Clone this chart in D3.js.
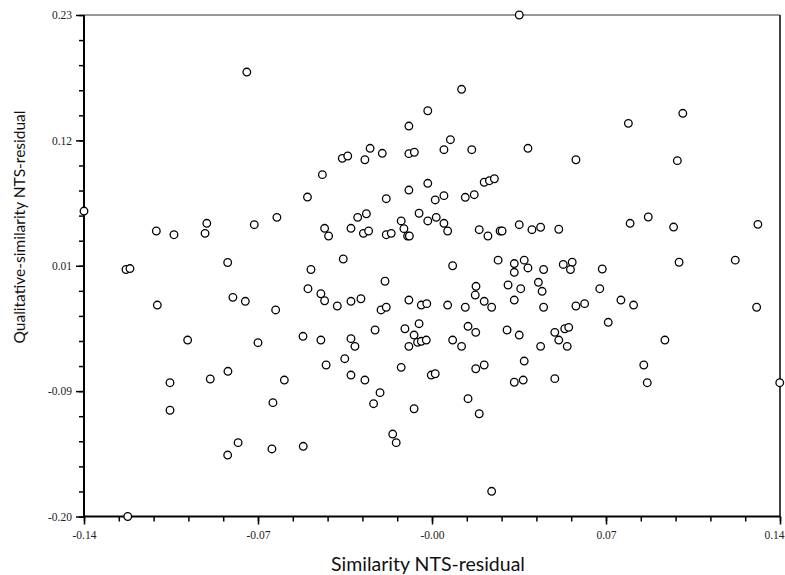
<!DOCTYPE html>
<html>
<head>
<meta charset="utf-8">
<script src="https://cdn.jsdelivr.net/npm/d3@7"></script>
<style>
  html, body { margin: 0; padding: 0; background: #fff; }
  svg { display: block; }
</style>
</head>
<body>
<svg id="chart" width="785" height="575"></svg>
<script>
// ---- data ----
const xTickValues = [-0.14, -0.07, 0, 0.07, 0.14];
const xTickLabels = ["-0.14", "-0.07", "-0.00", "0.07", "0.14"];
const yTickValues = [-0.2, -0.0925, 0.015, 0.1225, 0.23];
const yTickLabels = ["-0.20", "-0.09", "0.01", "0.12", "0.23"];

const simResidual = [
  -0.0745, -0.1400, -0.1109, -0.1038, -0.0913, -0.0906, -0.0822, -0.0715, -0.0624, -0.0501,
  -0.1231, -0.1215, -0.0487, -0.1105, -0.0801, -0.0751, -0.0629, -0.0499, -0.0983, -0.0700,
  -0.0519, -0.1054, -0.0892, -0.0821, -0.0594, -0.1054, -0.0640, -0.0780, -0.0822, -0.0644,
  -0.0518, -0.1224,
  0.0351, 0.0119, -0.0017, -0.0093, 0.0074, 0.0048, 0.0160, 0.0386, -0.0361, -0.0339,
  -0.0270, -0.0249, -0.0200, -0.0093, -0.0071, -0.0441, -0.0184, -0.0093, -0.0017, 0.0013,
  0.0048, 0.0134, 0.0170, 0.0210, 0.0231, 0.0251, -0.0299, -0.0264, -0.0124, -0.0052,
  -0.0017, 0.0017, 0.0048, 0.0063, -0.0432, -0.0416, -0.0326, -0.0276, -0.0255, -0.0184,
  -0.0164, -0.0113, -0.0098, -0.0091, 0.0190, 0.0225, 0.0274, 0.0282, 0.0351, 0.0402,
  0.0437, -0.0357, 0.0083, 0.0266, 0.0331, 0.0371, 0.0386, 0.0449, 0.0331,
  0.1009, 0.0790, 0.0579, 0.0987, 0.0797, 0.0870, 0.0972, 0.1311, 0.0510, 0.0994,
  0.1220, 0.0528, 0.0564, 0.0557, 0.0685,
  -0.0189, -0.0447, -0.0432, -0.0381, -0.0326, -0.0286, -0.0205, -0.0184, -0.0093, -0.0043,
  -0.0021, 0.0063, 0.0134, 0.0177, 0.0174, 0.0210, 0.0240, 0.0306, 0.0357, 0.0331,
  0.0428, 0.0443, 0.0449, -0.0447, -0.0326, -0.0310, -0.0229, -0.0109, -0.0072, -0.0052,
  -0.0093, -0.0058, -0.0043, -0.0023, 0.0083, 0.0119, 0.0145, 0.0176, 0.0302, 0.0351,
  0.0437, -0.0351, -0.0426, -0.0326, -0.0270, -0.0124, -0.0003, 0.0013, 0.0176, 0.0210,
  0.0371, 0.0331, 0.0367, -0.0209, -0.0235, -0.0072, 0.0145, 0.0190, -0.0158, -0.0144,
  0.0240,
  0.0675, 0.0579, 0.0614, 0.0760, 0.0811, 0.0709, 0.0494, 0.0534, 0.0550, 0.0510,
  0.0544, 0.0937, 0.0852, 0.0866, 0.0494, 0.1306, 0.1399
];

const qualSimResidual = [
  0.1811, 0.0619, 0.0448, 0.0416, 0.0428, 0.0514, 0.0178, 0.0502, 0.0565, 0.0739,
  0.0118, 0.0126, 0.0118, -0.0187, -0.0121, -0.0155, -0.0229, -0.0047, -0.0487, -0.0510,
  -0.0455, -0.0853, -0.0821, -0.0755, -0.0830, -0.1089, -0.1024, -0.1367, -0.1473, -0.1421,
  -0.1398, -0.2000,
  0.2300, 0.1663, 0.1479, 0.1348, 0.1231, 0.1145, 0.1145, 0.1157, 0.1071, 0.1091,
  0.1059, 0.1157, 0.1114, 0.1111, 0.1123, 0.0931, 0.0725, 0.0799, 0.0857, 0.0714,
  0.0751, 0.0737, 0.0759, 0.0866, 0.0879, 0.0896, 0.0565, 0.0596, 0.0534, 0.0600,
  0.0534, 0.0565, 0.0514, 0.0448, 0.0471, 0.0405, 0.0471, 0.0428, 0.0448, 0.0416,
  0.0428, 0.0468, 0.0405, 0.0405, 0.0459, 0.0405, 0.0448, 0.0448, 0.0502, 0.0459,
  0.0480, 0.0208, 0.0150, 0.0198, 0.0169, 0.0198, 0.0131, 0.0118, 0.0094,
  0.1457, 0.1371, 0.1059, 0.1051, 0.0514, 0.0568, 0.0482, 0.0505, 0.0463, 0.0180,
  0.0198, 0.0161, 0.0180, 0.0118, 0.0122,
  0.0017, -0.0090, -0.0150, -0.0195, -0.0155, -0.0133, -0.0229, -0.0206, -0.0144, -0.0187,
  -0.0175, -0.0187, -0.0206, -0.0026, -0.0101, -0.0155, -0.0206, -0.0015, -0.0047, -0.0144,
  0.0008, -0.0069, -0.0206, -0.0487, -0.0475, -0.0541, -0.0401, -0.0390, -0.0444, -0.0347,
  -0.0541, -0.0506, -0.0498, -0.0487, -0.0487, -0.0541, -0.0369, -0.0421, -0.0401, -0.0444,
  -0.0541, -0.0647, -0.0701, -0.0787, -0.0830, -0.0721, -0.0787, -0.0776, -0.0733, -0.0701,
  -0.0667, -0.0849, -0.0830, -0.0938, -0.1033, -0.1076, -0.0990, -0.1119, -0.1293, -0.1367,
  -0.1784,
  -0.0047, -0.0195, -0.0175, -0.0144, -0.0187, -0.0335, -0.0421, -0.0390, -0.0378, -0.0487,
  -0.0541, -0.0487, -0.0701, -0.0853, -0.0818, -0.0206, -0.0853
];

const xTitle = "Similarity NTS-residual";
const yTitle = "Qualitative-similarity NTS-residual";

// ---- layout ----
const svg = d3.select("#chart");
const plotL = 84, plotR = 780, plotT = 15, plotB = 516.5;

const x = d3.scaleLinear().domain([-0.14, 0.14]).range([plotL, plotR]);
const y = d3.scaleLinear().domain([-0.2, 0.23]).range([plotB, plotT]);

const xMinor = d3.range(0, 21).map(i => -0.14 + i * 0.014);
const yMinor = d3.range(0, 21).map(i => -0.2 + i * 0.0215);

const tickFont = "'Liberation Serif', 'Times New Roman', serif";

// top and right frame lines
svg.append("line").attr("x1", plotL).attr("x2", plotR).attr("y1", plotT).attr("y2", plotT)
  .attr("stroke", "#333").attr("stroke-width", 1.2);
svg.append("line").attr("x1", plotR).attr("x2", plotR).attr("y1", plotT).attr("y2", plotB)
  .attr("stroke", "#111").attr("stroke-width", 1.6);

// minor ticks
svg.append("g").attr("transform", `translate(0,${plotB})`)
  .call(d3.axisBottom(x).tickValues(xMinor).tickSize(5).tickFormat(""))
  .call(g => g.select(".domain").remove())
  .call(g => g.selectAll("line").attr("stroke", "#000").attr("stroke-width", 1.5));
svg.append("g").attr("transform", `translate(${plotL},0)`)
  .call(d3.axisLeft(y).tickValues(yMinor).tickSize(5).tickFormat(""))
  .call(g => g.select(".domain").remove())
  .call(g => g.selectAll("line").attr("stroke", "#000").attr("stroke-width", 1.5));

// major axes
const xAxis = svg.append("g").attr("transform", `translate(0,${plotB})`)
  .call(d3.axisBottom(x).tickValues(xTickValues).tickSize(8).tickPadding(6)
    .tickFormat((d, i) => xTickLabels[i]));
const yAxis = svg.append("g").attr("transform", `translate(${plotL},0)`)
  .call(d3.axisLeft(y).tickValues(yTickValues).tickSize(8).tickPadding(4)
    .tickFormat((d, i) => yTickLabels[i]));

[xAxis, yAxis].forEach(g => {
  g.select(".domain").attr("stroke", "#000").attr("stroke-width", 2);
  g.selectAll(".tick line").attr("stroke", "#000").attr("stroke-width", 1.5);
  g.selectAll(".tick text").attr("fill", "#222")
    .style("font-family", tickFont).style("font-size", "11.5px");
});
xAxis.select(".domain").attr("d", `M${plotL},0H${plotR}`);
yAxis.select(".domain").attr("d", `M0,${plotT}V${plotB}`);
// keep the last x label inside the window
xAxis.selectAll(".tick text").filter((d, i) => i === xTickValues.length - 1)
  .attr("text-anchor", "end").attr("x", 4);

// axis titles
svg.append("text")
  .attr("x", 428).attr("y", 571)
  .attr("text-anchor", "middle")
  .style("font-family", "Lato, 'Open Sans', sans-serif")
  .style("font-size", "19.5px")
  .attr("fill", "#111")
  .text(xTitle);

svg.append("text")
  .attr("transform", "translate(25,227) rotate(-90)")
  .attr("text-anchor", "middle")
  .style("font-family", "Lato, 'Open Sans', sans-serif")
  .style("font-size", "15.5px")
  .attr("fill", "#111")
  .text(yTitle);

// points
const points = simResidual.map((v, i) => ({ x: v, y: qualSimResidual[i] }));
svg.append("g").selectAll("circle")
  .data(points)
  .join("circle")
  .attr("cx", d => x(d.x))
  .attr("cy", d => y(d.y))
  .attr("r", 3.8)
  .attr("fill", "#fff")
  .attr("stroke", "#000")
  .attr("stroke-width", 1.3);
</script>
</body>
</html>
